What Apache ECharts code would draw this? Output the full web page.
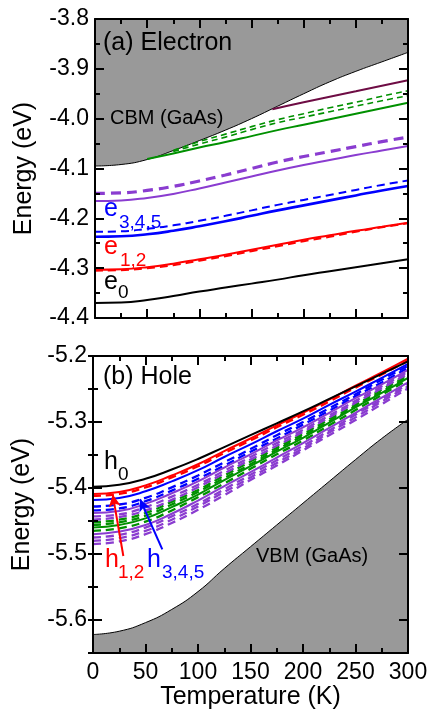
<!DOCTYPE html>
<html lang="en">
<head>
<meta charset="UTF-8">
<title>Electron / hole levels vs temperature</title>
<script src="https://cdn.jsdelivr.net/npm/echarts@6/dist/echarts.min.js"></script>
<style>
    html, body { margin: 0; padding: 0; background: #fff; }
    #main { width: 431px; height: 711px; }
</style>
</head>
<body>
<div id="main"></div>
<script>
    // temperature grid (K)
    var temps = [0, 25, 50, 75, 100, 125, 150, 175, 200, 225, 250, 275, 300];

    // (a) electron panel, energies in eV
    var cbm       = [-4.095, -4.092, -4.082, -4.064, -4.044, -4.023, -4.000, -3.975, -3.950, -3.926, -3.905, -3.886, -3.867];
    var e0        = [-4.370, -4.369, -4.364, -4.356, -4.347, -4.339, -4.331, -4.323, -4.314, -4.306, -4.298, -4.290, -4.282];
    var e12       = [-4.303, -4.302, -4.298, -4.291, -4.282, -4.273, -4.263, -4.253, -4.243, -4.234, -4.225, -4.217, -4.209];
    var e12d      = [-4.305, -4.304, -4.300, -4.294, -4.285, -4.276, -4.266, -4.256, -4.246, -4.237, -4.227, -4.218, -4.210];
    var e345      = [-4.237, -4.236, -4.232, -4.225, -4.216, -4.206, -4.195, -4.184, -4.174, -4.164, -4.154, -4.144, -4.135];
    var e345d     = [-4.227, -4.226, -4.221, -4.214, -4.205, -4.195, -4.184, -4.173, -4.163, -4.153, -4.143, -4.133, -4.124];
    var ePurple   = [-4.165, -4.164, -4.159, -4.151, -4.140, -4.128, -4.116, -4.104, -4.093, -4.083, -4.073, -4.064, -4.055];
    var ePurpleD  = [-4.150, -4.149, -4.144, -4.136, -4.125, -4.113, -4.100, -4.087, -4.076, -4.066, -4.056, -4.046, -4.037];
    var eGreen    = [null, null, -4.081, -4.070, -4.058, -4.047, -4.035, -4.023, -4.012, -4.001, -3.990, -3.979, -3.968];
    var eGreenDa  = [null, null, null, -4.064, -4.046, -4.031, -4.016, -4.002, -3.990, -3.978, -3.967, -3.955, -3.944];
    var eGreenDb  = [null, null, null, -4.066, -4.051, -4.037, -4.022, -4.008, -3.997, -3.986, -3.975, -3.964, -3.954];
    var maroonT   = [170, 200, 250, 300];
    var eMaroon   = [-3.981, -3.967, -3.945, -3.923];

    // (b) hole panel
    var vbm       = [-5.622, -5.617, -5.604, -5.584, -5.557, -5.522, -5.489, -5.456, -5.423, -5.390, -5.357, -5.325, -5.296];
    var h0        = [-5.398, -5.395, -5.386, -5.372, -5.356, -5.338, -5.320, -5.302, -5.284, -5.265, -5.246, -5.227, -5.208];
    var h12       = [-5.409, -5.406, -5.396, -5.381, -5.364, -5.344, -5.325, -5.305, -5.286, -5.266, -5.245, -5.225, -5.204];
    var h12d      = [-5.412, -5.409, -5.399, -5.384, -5.367, -5.347, -5.328, -5.308, -5.289, -5.269, -5.248, -5.228, -5.207];
    var h345      = [-5.418, -5.415, -5.405, -5.390, -5.373, -5.353, -5.334, -5.314, -5.295, -5.274, -5.254, -5.233, -5.212];
    var h345da    = [-5.428, -5.425, -5.415, -5.399, -5.381, -5.361, -5.341, -5.320, -5.300, -5.279, -5.258, -5.236, -5.215];
    var h345db    = [-5.434, -5.431, -5.420, -5.404, -5.386, -5.366, -5.345, -5.325, -5.304, -5.283, -5.261, -5.240, -5.218];
    var hPurA     = [-5.438, -5.435, -5.424, -5.408, -5.390, -5.369, -5.349, -5.328, -5.308, -5.286, -5.264, -5.243, -5.221];
    var hPurDa    = [-5.443, -5.440, -5.429, -5.413, -5.395, -5.374, -5.353, -5.332, -5.312, -5.290, -5.268, -5.246, -5.224];
    var hPurDb    = [-5.448, -5.444, -5.434, -5.418, -5.399, -5.378, -5.357, -5.336, -5.315, -5.293, -5.271, -5.249, -5.227];
    var hGrnDa    = [-5.452, -5.448, -5.438, -5.421, -5.403, -5.381, -5.360, -5.339, -5.318, -5.296, -5.274, -5.251, -5.229];
    var hGrnDb    = [-5.456, -5.452, -5.442, -5.425, -5.406, -5.385, -5.364, -5.342, -5.321, -5.299, -5.276, -5.254, -5.231];
    var hGrn      = [-5.460, -5.456, -5.446, -5.429, -5.410, -5.388, -5.367, -5.345, -5.324, -5.301, -5.278, -5.256, -5.233];
    var hGrnDc    = [-5.465, -5.461, -5.451, -5.434, -5.414, -5.393, -5.371, -5.349, -5.328, -5.305, -5.282, -5.259, -5.236];
    var hPurB     = [-5.470, -5.466, -5.456, -5.439, -5.419, -5.397, -5.376, -5.354, -5.332, -5.309, -5.286, -5.263, -5.240];
    var hPurDc    = [-5.475, -5.471, -5.460, -5.443, -5.424, -5.402, -5.380, -5.358, -5.336, -5.313, -5.289, -5.266, -5.243];
    var hPurDd    = [-5.480, -5.476, -5.465, -5.448, -5.428, -5.406, -5.384, -5.362, -5.340, -5.316, -5.293, -5.269, -5.246];
    var hPurDe    = [-5.485, -5.481, -5.470, -5.453, -5.433, -5.411, -5.388, -5.366, -5.343, -5.320, -5.297, -5.273, -5.249];

    // arrows in panel (b): [T, E] start -> end
    var arrowRed  = [[28.9, -5.503], [18.8, -5.410]];
    var arrowBlue = [[66.0, -5.493], [44.8, -5.417]];

    var FONT = 'Liberation Sans';
    var RED = '#ff0000', BLUE = '#0000ff', GREEN = '#009000', PURPLE = '#8a3cd0', MAROON = '#6e0c44', GRAY = '#999999';

    function pairs(ts, arr) {
        return ts.map(function (t, i) { return [t, arr[i]]; });
    }

    function lvl(arr, color, dash, width, g, ts) {
        return {
            type: 'line',
            xAxisIndex: g === 0 ? 0 : 2,
            yAxisIndex: g === 0 ? 0 : 2,
            data: pairs(ts || temps, arr),
            symbol: 'none',
            smooth: 0.5,
            silent: true,
            z: dash ? 3 : 4,
            lineStyle: {color: color, width: width || 2, type: dash || 'solid'}
        };
    }

    var tickStyle = {color: '#000', width: 2};

    function xAx(g, pos, labels) {
        return {
            type: 'value', gridIndex: g, position: pos, z: 10,
            min: 0, max: 300, interval: 50,
            axisLine: {show: true, onZero: false, lineStyle: {color: '#000', width: 2}},
            axisTick: {show: true, inside: true, length: 9, lineStyle: tickStyle},
            minorTick: {show: true, splitNumber: 2, length: 5, lineStyle: tickStyle},
            splitLine: {show: false},
            minorSplitLine: {show: false},
            axisLabel: {show: labels, margin: 8, color: '#000', fontFamily: FONT, fontSize: 23},
            name: labels ? 'Temperature (K)' : '',
            nameLocation: 'middle', nameGap: 30,
            nameTextStyle: {color: '#000', fontFamily: FONT, fontSize: 25}
        };
    }

    function yAx(g, pos, labels, extra) {
        var a = {
            type: 'value', gridIndex: g, position: pos, z: 10,
            axisLine: {show: true, onZero: false, lineStyle: {color: '#000', width: 2}},
            axisTick: {show: true, inside: true, length: 9, lineStyle: tickStyle},
            minorTick: {show: false},
            splitLine: {show: false},
            axisLabel: {
                show: labels, margin: 6, color: '#000', fontFamily: FONT, fontSize: 23,
                showMinLabel: g === 0, formatter: function (v) { return v.toFixed(1); }
            },
            name: labels ? 'Energy (eV)' : '',
            nameLocation: 'middle', nameGap: 58,
            nameTextStyle: {color: '#000', fontFamily: FONT, fontSize: 25}
        };
        for (var k in extra) a[k] = extra[k];
        return a;
    }

    var topY = {min: -4.4, max: -3.8, interval: 0.1,
        minorTick: {show: true, splitNumber: 2, length: 5, lineStyle: tickStyle}};
    var botY = {min: -5.65, max: -5.2, splitNumber: 5, minInterval: 0.1, maxInterval: 0.1};
    var botMinor = {min: -5.65, max: -5.2, interval: 0.05,
        axisLine: {show: false}, axisLabel: {show: false},
        axisTick: {show: true, inside: true, length: 5, lineStyle: tickStyle}};

    var series = [
        // panel (a)
        {
            type: 'line', xAxisIndex: 0, yAxisIndex: 0, data: pairs(temps, cbm),
            symbol: 'none', smooth: 0.5, silent: true, z: 1,
            lineStyle: {color: '#000', width: 1},
            areaStyle: {color: GRAY, opacity: 1, origin: 'end'}
        },
        lvl(e0, '#000', null, 2, 0),
        lvl(e12d, RED, [8, 5], 2, 0),
        lvl(e12, RED, null, 2, 0),
        lvl(e345d, BLUE, [8, 5], 2, 0),
        lvl(e345, BLUE, null, 2.6, 0),
        lvl(ePurpleD, PURPLE, [10, 6], 3.2, 0),
        lvl(ePurple, PURPLE, null, 2, 0),
        lvl(eGreenDa, GREEN, [6, 4], 1.6, 0),
        lvl(eGreenDb, GREEN, [6, 4], 1.6, 0),
        lvl(eGreen, GREEN, null, 2, 0),
        lvl(eMaroon, MAROON, null, 2, 0, maroonT),
        // panel (b)
        {
            type: 'line', xAxisIndex: 2, yAxisIndex: 2, data: pairs(temps, vbm),
            symbol: 'none', smooth: 0.5, silent: true, z: 1,
            lineStyle: {color: '#000', width: 1},
            areaStyle: {color: GRAY, opacity: 1, origin: 'start'}
        },
        lvl(hPurDe, PURPLE, [8, 5], 2.3, 1),
        lvl(hPurDd, PURPLE, [8, 5], 2.3, 1),
        lvl(hPurDc, PURPLE, [8, 5], 2.3, 1),
        lvl(hPurB, PURPLE, null, 2, 1),
        lvl(hGrnDc, GREEN, [8, 5], 2.3, 1),
        lvl(hGrn, GREEN, null, 2, 1),
        lvl(hGrnDb, GREEN, [8, 5], 2.3, 1),
        lvl(hGrnDa, GREEN, [8, 5], 2.3, 1),
        lvl(hPurDb, PURPLE, [8, 5], 2.3, 1),
        lvl(hPurDa, PURPLE, [8, 5], 2.3, 1),
        lvl(hPurA, PURPLE, null, 2, 1),
        lvl(h345db, BLUE, [8, 5], 2.3, 1),
        lvl(h345da, BLUE, [8, 5], 2.3, 1),
        lvl(h345, BLUE, null, 2, 1),
        lvl(h12d, RED, [8, 5], 2.3, 1),
        lvl(h12, RED, null, 2, 1),
        lvl(h0, '#000', null, 2, 1)
    ];

    // arrows pointing at h_{1,2} and h_{3,4,5}
    function arrow(pts, color) {
        return [
            {coord: pts[0], lineStyle: {color: color, width: 2, type: 'solid'}},
            {coord: pts[1]}
        ];
    }
    series[series.length - 1].markLine = {
        silent: true, animation: false,
        symbol: ['none', 'arrow'], symbolSize: [9, 12],
        label: {show: false},
        data: [arrow(arrowRed, RED), arrow(arrowBlue, BLUE)]
    };

    function txt(s, x, y, size, color) {
        return {
            type: 'text', x: x, y: y, z: 100, silent: true,
            style: {text: s, fill: color || '#000', font: size + 'px ' + FONT, align: 'left', verticalAlign: 'middle'}
        };
    }

    var myChart = echarts.init(document.getElementById('main'), null, {renderer: 'canvas'});
    var option = {
        animation: false,
        backgroundColor: '#fff',
        grid: [
            {left: 95, right: 23, top: 19, height: 299},
            {left: 93, right: 23, top: 356, height: 297}
        ],
        xAxis: [xAx(0, 'bottom', false), xAx(0, 'top', false), xAx(1, 'bottom', true), xAx(1, 'top', false)],
        yAxis: [
            yAx(0, 'left', true, topY),
            yAx(0, 'right', false, topY),
            yAx(1, 'left', true, botY),
            yAx(1, 'right', false, botY),
            yAx(1, 'left', false, botMinor),
            yAx(1, 'right', false, botMinor)
        ],
        series: series,
        graphic: [
            txt('(a) Electron', 103, 43, 25),
            txt('CBM (GaAs)', 110, 118, 20),
            txt('e', 104, 209, 25, BLUE),
            txt('3,4,5', 119, 223, 19, BLUE),
            txt('e', 104, 247, 25, RED),
            txt('1,2', 120, 261, 19, RED),
            txt('e', 104, 282, 25),
            txt('0', 118, 293, 19),
            txt('(b) Hole', 103, 377, 25),
            txt('VBM (GaAs)', 256, 556, 20),
            txt('h', 104, 462, 25),
            txt('0', 118, 475, 19),
            txt('h', 105, 560, 25, RED),
            txt('1,2', 118, 573, 19, RED),
            txt('h', 147, 560, 25, BLUE),
            txt('3,4,5', 162, 573, 19, BLUE)
        ]
    };
    myChart.setOption(option, true);
</script>
</body>
</html>
